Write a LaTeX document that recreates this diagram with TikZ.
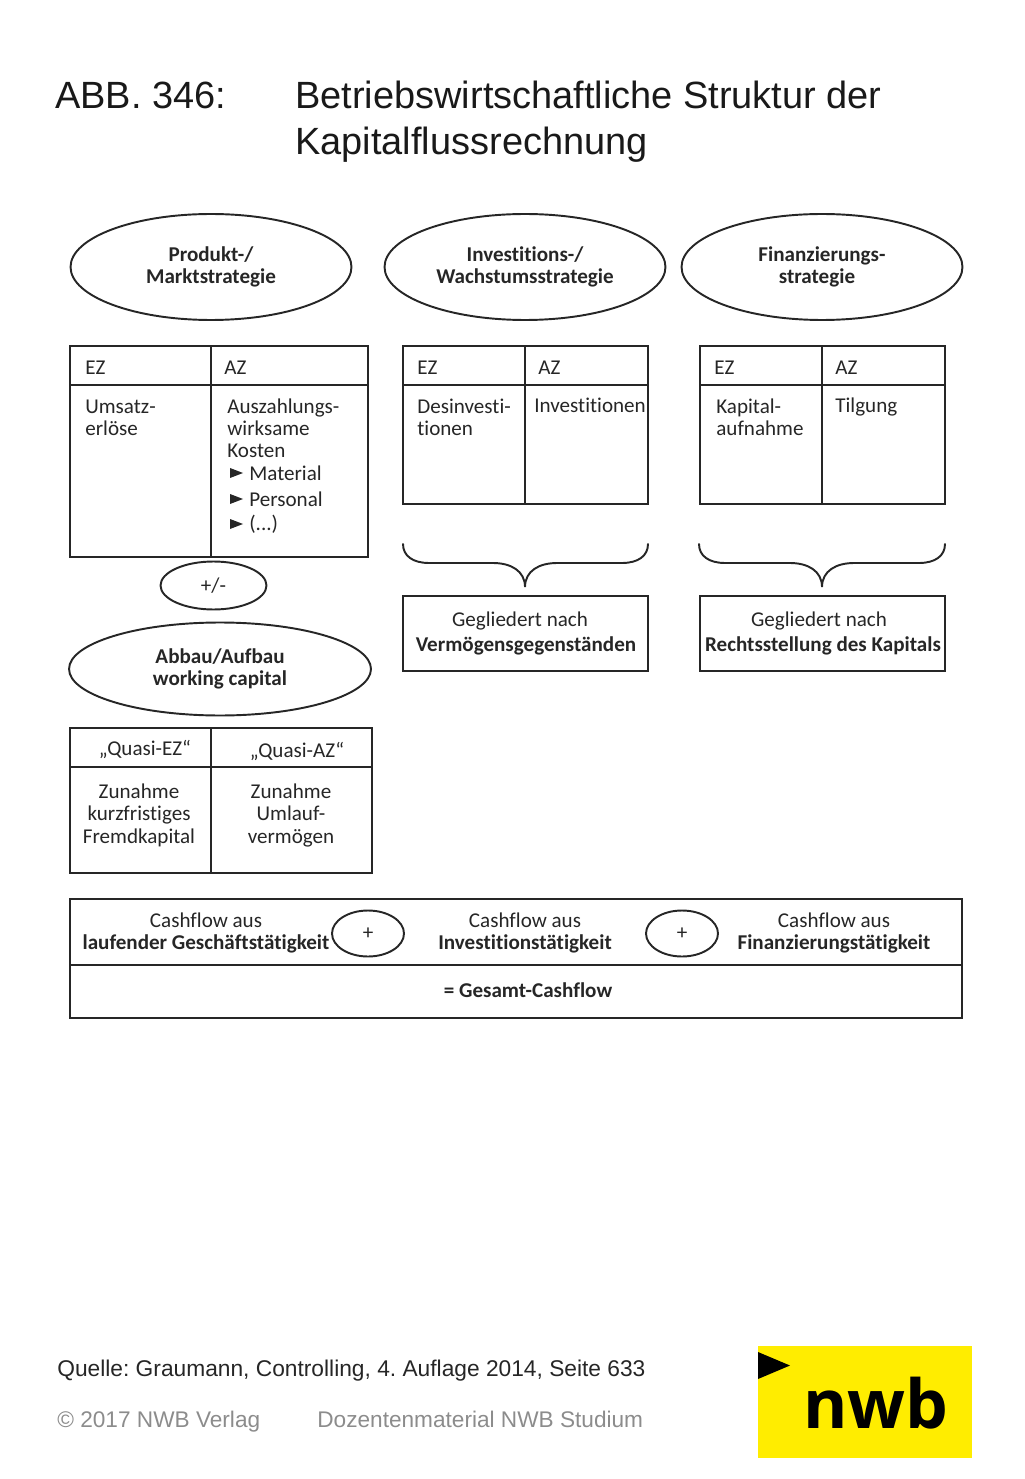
\documentclass[tikz,border=0pt]{standalone}
\usepackage{fontspec}
\setmainfont{Liberation Sans}
\newfontfamily\diagfont[Ligatures=NoCommon]{Carlito}
\newfontfamily\logofont{Open Sans}
\usetikzlibrary{shapes.geometric}
\definecolor{nwbyellow}{RGB}{255,237,0}
\frenchspacing

\begin{document}
\begin{tikzpicture}[x=0.02cm,y=-0.02cm,
    title/.style ={anchor=base west, inner sep=0pt, font=\fontsize{21.6}{24}\selectfont, text=black!90},
    source/.style ={anchor=base west, inner sep=0pt, font=\fontsize{12.95}{15}\selectfont, text=black!85},
    grayfoot/.style ={source, text=black!45, font=\fontsize{12.88}{15}\selectfont},
    oval/.style ={ellipse, draw, line width=1.1pt, draw=black!85, inner sep=0pt, align=center, text=black!85, font=\diagfont\fontsize{12}{12.8}\selectfont},
    strategy/.style ={oval, font=\diagfont\bfseries\fontsize{12}{12.8}\selectfont, minimum width=5.62cm, minimum height=2.12cm},
    smalloval/.style ={oval, minimum width=1.44cm, minimum height=0.92cm},
    tab/.style ={line width=1.1pt, draw=black!85},
    cell/.style ={anchor=base west, inner sep=0pt, align=left, text=black!85, font=\diagfont\fontsize{12}{12.8}\selectfont},
    centered/.style ={cell, anchor=base, align=center},
    boldcell/.style ={centered, font=\diagfont\bfseries\fontsize{12}{12.8}\selectfont}]
   \useasboundingbox (0,0) rectangle (1024,1479);

   % title
   \node[title] (abb) at (55,109) {ABB. 346:};
   \node[title] (title1) at (295,109) {Betriebswirtschaftliche Struktur der};
   \node[title] (title2) at (295,155) {Kapitalflussrechnung};

   % strategies
   \node[strategy] (produkt) at (211,267) {Produkt-/\\Marktstrategie};
   \node[strategy] (invest) at (525,267) {Investitions-/\\Wachstumsstrategie};
   \node[strategy] (finanz) at (822,267) {Finanzierungs-\\strategie\hspace*{0.2cm}};

   % tables
   \draw[tab] (70,346) rectangle (368,557) (70,385) -- (368,385) (211,346) -- (211,557);
   \draw[tab] (403,346) rectangle (648,504) (403,385) -- (648,385) (525,346) -- (525,504);
   \draw[tab] (700,346) rectangle (945,504) (700,385) -- (945,385) (822,346) -- (822,504);
   \draw[tab] (70,728) rectangle (372,873) (70,767) -- (372,767) (211,728) -- (211,873);

   \node[cell] (ez1) at (85,375) {EZ};
   \node[cell] (az1) at (224,375) {AZ};
   \node[cell] (umsatz) at (85,436) {Umsatz-\\erlöse};
   \node[cell] (kosten) at (227,458) {Auszahlungs-\\wirksame\\Kosten};
   \node[cell] (material) at (249,480) {Material};
   \node[cell] (personal) at (249,506) {Personal};
   \node[cell] (rest) at (249,530) {(...)};
   \foreach \y in {473,499,524}
     \fill[black!85] (230,\y-5) -- (243,\y) -- (230,\y+5) -- cycle;

   \node[cell] (ez2) at (417,375) {EZ};
   \node[cell] (az2) at (538,375) {AZ};
   \node[cell] (desinvest) at (417,436) {Desinvesti-\\tionen};
   \node[cell] (investitionen) at (534,413) {Investitionen};

   \node[cell] (ez3) at (714,375) {EZ};
   \node[cell] (az3) at (835,375) {AZ};
   \node[cell] (aufnahme) at (716,436) {Kapital-\\aufnahme};
   \node[cell] (tilgung) at (835,413) {Tilgung};

   % working capital
   \node[smalloval, minimum width=2.12cm, minimum height=0.96cm] (plusminus) at (213.5,585.5) {+/-};
   \node[strategy, minimum width=6.04cm, minimum height=1.86cm] (abbau) at (220,669) {Abbau/Aufbau\\working capital};
   \node[centered] (quasiez) at (145,755) {„Quasi-EZ“};
   \node[centered] (quasiaz) at (297,757) {„Quasi-AZ“};
   \node[centered] (zunahme1) at (139,843) {Zunahme\\kurzfristiges\\Fremdkapital};
   \node[centered] (zunahme2) at (291,843) {Zunahme\\Umlauf-\\vermögen};

   % braces
   \foreach \l/\m/\r in {403/525/648,699/822/945}
     \draw[tab, line cap=round] (\l,544) .. controls (\l,556) and (\l+10,563) .. (\l+26,563)
       -- (\m-32,563) .. controls (\m-14,563) and (\m,571) .. (\m,587)
       .. controls (\m,571) and (\m+14,563) .. (\m+32,563)
       -- (\r-26,563) .. controls (\r-10,563) and (\r,556) .. (\r,544);

   % grouped by
   \draw[tab] (403,596) rectangle (648,671);
   \draw[tab] (700,596) rectangle (945,671);
   \node[centered] (gliedert1) at (520,626) {Gegliedert nach};
   \node[boldcell] (vermoegen) at (526,651) {Vermögensgegenständen};
   \node[centered] (gliedert2) at (819,626) {Gegliedert nach};
   \node[boldcell] (recht) at (823,651) {Rechtsstellung des Kapitals};

   % cashflow
   \draw[tab] (70,899) rectangle (962,1018) (70,965) -- (962,965);
   \node[centered] (cf1a) at (206,927) {Cashflow aus};
   \node[boldcell] (cf1b) at (206,949) {laufender Geschäftstätigkeit};
   \node[smalloval] (plus1) at (368,933.5) {+};
   \node[centered] (cf2a) at (525,927) {Cashflow aus};
   \node[boldcell] (cf2b) at (525,949) {Investitionstätigkeit};
   \node[smalloval] (plus2) at (682,933.5) {+};
   \node[centered] (cf3a) at (834,927) {Cashflow aus};
   \node[boldcell] (cf3b) at (834,949) {Finanzierungstätigkeit};
   \node[boldcell] (gesamt) at (528,997) {= Gesamt-Cashflow};

   % footer
   \node[source] (quelle) at (57,1376) {Quelle: Graumann, Controlling, 4. Auflage 2014, Seite 633};
   \node[grayfoot] (copy) at (57,1427) {© 2017 NWB Verlag};
   \node[grayfoot] (dozent) at (317,1427) {Dozentenmaterial NWB Studium};

   % logo
   \fill[nwbyellow] (758,1346) rectangle (972,1458);
   \fill[black] (758,1352) -- (790,1365.5) -- (758,1379) -- cycle;
   \node[anchor=base west, inner sep=0pt, font=\logofont\bfseries\fontsize{38.5}{44}\selectfont] (nwb) at (803,1428) {nwb};
\end{tikzpicture}
\end{document}
